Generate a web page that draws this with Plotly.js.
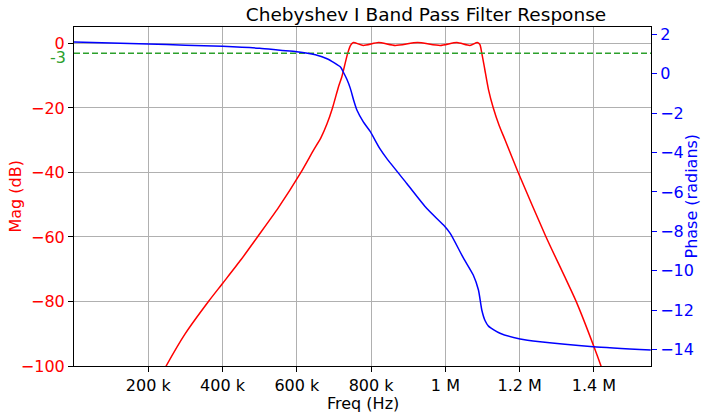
<!DOCTYPE html>
<html>
<head>
<meta charset="utf-8">
<script src="https://cdn.plot.ly/plotly-3.0.1.min.js"></script>
<style>html,body{margin:0;padding:0;background:#fff}#chart{width:701px;height:413px}</style>
</head>
<body>
<div id="chart"></div>
<script>
// Magnitude response (Hz, dB)
const magFreq = [235e3, 248e3, 300e3, 362e3, 400e3, 450e3, 494e3, 550e3, 611e3, 645e3, 665e3, 681e3, 696e3, 712e3, 721e3, 737e3, 745e3, 752e3, 779e3, 820e3, 865e3, 925e3, 986e3, 1031e3, 1066e3, 1086e3, 1093e3, 1098e3, 1106e3, 1116e3, 1129e3, 1145e3, 1161e3, 1196e3, 1271e3, 1320e3, 1354e3, 1400e3, 1419e3, 1432e3];
const magDb = [-102.8, -100, -89.9, -80, -74.4, -67.0, -60, -51, -40, -33.1, -29.2, -25.0, -20, -13.5, -10.4, -3, -0.5, 0.3, -0.6, 0.3, -0.6, 0.3, -0.6, 0.3, -0.6, 0.3, -0.4, -3, -8, -14.3, -20, -25.5, -30, -40, -60, -72, -80.5, -94, -100, -104];

// Phase response (Hz, radians)
const phaseFreq = [0, 100e3, 200e3, 300e3, 400e3, 500e3, 555e3, 600e3, 650e3, 683e3, 700e3, 718e3, 725e3, 735e3, 744e3, 753e3, 762e3, 779e3, 797e3, 824e3, 842e3, 896e3, 950e3, 995e3, 1013e3, 1048e3, 1075e3, 1089e3, 1098e3, 1107e3, 1116e3, 1147e3, 1201e3, 1255e3, 1398e3, 1553e3];
const phaseRad = [1.60, 1.55, 1.50, 1.44, 1.38, 1.28, 1.18, 1.11, 0.95, 0.74, 0.55, 0.32, 0.08, -0.30, -0.75, -1.35, -1.86, -2.45, -2.92, -3.82, -4.30, -5.57, -6.84, -7.68, -8.10, -9.33, -10.21, -10.97, -11.98, -12.53, -12.80, -13.16, -13.45, -13.59, -13.84, -14.01];

// -3 dB reference
const refFreq = [0, 1553.6e3];
const refDb = [-3, -3];

// Axis ticks
const xTickVals = [200e3, 400e3, 600e3, 800e3, 1000e3, 1200e3, 1400e3];
const xTickText = ['200 k', '400 k', '600 k', '800 k', '1 M', '1.2 M', '1.4 M'];
const magTickVals = [0, -20, -40, -60, -80, -100];
const phaseTickVals = [2, 0, -2, -4, -6, -8, -10, -12, -14];

const font = 'DejaVu Sans, sans-serif';
const fs = 16;

const traces = [
  {x: magFreq, y: magDb, type: 'scatter', mode: 'lines', line: {color: '#ff0000', width: 1.5, shape: 'spline', smoothing: 0.6}, yaxis: 'y', hoverinfo: 'skip'},
  {x: refFreq, y: refDb, type: 'scatter', mode: 'lines', line: {color: '#2ca02c', width: 1.5, dash: '6px,3px'}, yaxis: 'y', hoverinfo: 'skip'},
  {x: phaseFreq, y: phaseRad, type: 'scatter', mode: 'lines', line: {color: '#0000ff', width: 1.5, shape: 'spline', smoothing: 0.6}, yaxis: 'y2', hoverinfo: 'skip'}
];

const layout = {
  width: 701, height: 413,
  margin: {l: 74, r: 50, t: 27, b: 47},
  paper_bgcolor: '#ffffff', plot_bgcolor: '#ffffff',
  showlegend: false,
  font: {family: font, size: fs, color: '#000'},
  title: {text: 'Chebyshev I Band Pass Filter Response', font: {family: font, size: 18.5, color: '#000'}, x: 426/701, xanchor: 'center', xref: 'container', y: 1 - 15/413, yanchor: 'middle', yref: 'container'},
  xaxis: {
    range: [0, 1553.6e3], tickmode: 'array', tickvals: xTickVals, ticktext: xTickText,
    ticks: 'outside', ticklen: 5, tickcolor: '#000', showline: true, mirror: true, linecolor: '#000', linewidth: 1,
    showgrid: true, gridcolor: '#b0b0b0', gridwidth: 1, zeroline: false,
    tickfont: {family: font, size: fs, color: '#000'}
  },
  yaxis: {
    range: [-100, 5.1], tickmode: 'array', tickvals: magTickVals,
    ticks: 'outside', ticklen: 5, tickcolor: '#000', showline: true, linecolor: '#000', linewidth: 1,
    showgrid: true, gridcolor: '#b0b0b0', gridwidth: 1, zeroline: false,
    tickfont: {family: font, size: fs, color: '#ff0000'}
  },
  yaxis2: {
    range: [-14.82, 2.36], overlaying: 'y', side: 'right', tickmode: 'array', tickvals: phaseTickVals,
    ticks: 'outside', ticklen: 5, tickcolor: '#0000ff', showline: true, linecolor: '#000', linewidth: 1,
    showgrid: false, zeroline: false,
    tickfont: {family: font, size: fs, color: '#0000ff'}
  },
  annotations: [
    {text: '-3', x: 0, xref: 'paper', y: -3, yref: 'y', xanchor: 'right', yanchor: 'middle', xshift: -6, yshift: -4, showarrow: false, font: {family: font, size: fs, color: '#2ca02c'}},
    {text: 'Freq (Hz)', x: 0.5, xref: 'paper', y: 0, yref: 'paper', xanchor: 'center', yanchor: 'middle', yshift: -37, showarrow: false, font: {family: font, size: fs, color: '#000'}},
    {text: 'Mag (dB)', x: 0, xref: 'paper', y: 0.5, yref: 'paper', xanchor: 'center', yanchor: 'middle', xshift: -59, textangle: -90, showarrow: false, font: {family: font, size: fs, color: '#ff0000'}},
    {text: 'Phase (radians)', x: 1, xref: 'paper', y: 0.5, yref: 'paper', xanchor: 'center', yanchor: 'middle', xshift: 40, textangle: -90, showarrow: false, font: {family: font, size: fs, color: '#0000ff'}}
  ]
};

Plotly.newPlot('chart', traces, layout, {displayModeBar: false, staticPlot: true});
</script>
</body>
</html>
